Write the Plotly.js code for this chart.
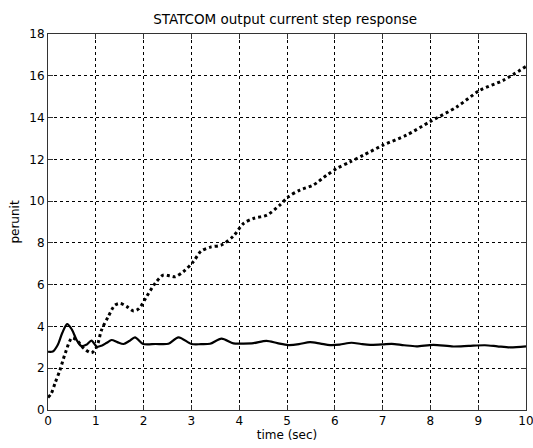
<!DOCTYPE html>
<html><head><meta charset="utf-8">
<script src="https://cdn.plot.ly/plotly-3.0.1.min.js"></script>
<style>html,body{margin:0;padding:0;background:#fff}#chart{width:533px;height:448px}</style>
</head><body><div id="chart"></div>
<script>
const solidTime = [0, 0.1, 0.2, 0.3, 0.4, 0.5, 0.6, 0.7, 0.8, 0.91, 1.02, 1.12, 1.23, 1.33, 1.45, 1.58, 1.7, 1.82, 1.99, 2.25, 2.52, 2.73, 3.0, 3.2, 3.39, 3.63, 3.88, 4.09, 4.3, 4.57, 4.8, 5.03, 5.25, 5.48, 5.7, 5.9, 6.1, 6.35, 6.55, 6.74, 7.0, 7.19, 7.45, 7.71, 8.06, 8.48, 8.8, 9.14, 9.4, 9.67, 10.0];
const solidValue = [2.79, 2.8, 3.1, 3.7, 4.11, 3.85, 3.35, 3.06, 3.12, 3.32, 3.03, 3.08, 3.22, 3.35, 3.25, 3.16, 3.3, 3.48, 3.16, 3.16, 3.17, 3.48, 3.16, 3.15, 3.17, 3.42, 3.19, 3.18, 3.2, 3.31, 3.2, 3.11, 3.15, 3.25, 3.18, 3.11, 3.13, 3.22, 3.16, 3.12, 3.14, 3.17, 3.1, 3.05, 3.12, 3.04, 3.07, 3.1, 3.05, 3.0, 3.05];
const dottedTime = [0, 0.07, 0.15, 0.25, 0.36, 0.5, 0.6, 0.75, 0.91, 1.02, 1.12, 1.26, 1.4, 1.51, 1.65, 1.79, 1.9, 2.06, 2.24, 2.41, 2.55, 2.66, 2.83, 3.04, 3.2, 3.4, 3.63, 3.88, 4.09, 4.3, 4.58, 4.85, 5.03, 5.27, 5.55, 5.83, 6.04, 6.32, 6.6, 7.01, 7.5, 7.99, 8.55, 9.04, 9.53, 10.0];
const dottedValue = [0.6, 0.8, 1.3, 1.91, 2.71, 3.45, 3.35, 2.95, 2.74, 3.03, 3.83, 4.47, 5.02, 5.1, 4.95, 4.74, 4.85, 5.42, 6.06, 6.46, 6.42, 6.38, 6.62, 7.1, 7.6, 7.8, 7.9, 8.33, 8.93, 9.17, 9.33, 9.81, 10.21, 10.53, 10.77, 11.24, 11.56, 11.88, 12.2, 12.68, 13.16, 13.8, 14.51, 15.31, 15.79, 16.45];
const xTicks = [0,1,2,3,4,5,6,7,8,9,10];
const yTicks = [0,2,4,6,8,10,12,14,16,18];

const font = {family: 'DejaVu Sans, Verdana, sans-serif', size: 12, color: '#000'};
const axisCommon = {
  showgrid: true, gridcolor: '#000', gridwidth: 1, griddash: '3px,3px',
  showline: true, linecolor: '#333', linewidth: 1, mirror: 'ticks',
  ticks: 'inside', ticklen: 5, tickcolor: '#333', zeroline: false,
  tickfont: font, fixedrange: true, ticklabeloverflow: 'allow'
};
const data = [
  {x: solidTime, y: solidValue, mode: 'lines', line: {color: '#000', width: 2.2, shape: 'spline', smoothing: 0.8}, hoverinfo: 'skip'},
  {x: dottedTime, y: dottedValue, mode: 'lines', line: {color: '#000', width: 3, dash: '3px,3px', shape: 'spline', smoothing: 0.8}, hoverinfo: 'skip'}
];
const layout = {
  width: 533, height: 448,
  margin: {l: 48, r: 7, t: 34, b: 38},
  paper_bgcolor: '#fff', plot_bgcolor: '#fff',
  showlegend: false,
  font: font,
  title: {text: 'STATCOM output current step response', font: Object.assign({}, font, {size: 13.5}), x: 0.535, xanchor: 'center', y: 0.957, yanchor: 'middle'},
  xaxis: Object.assign({}, axisCommon, {range: [0, 10], tickvals: xTicks, title: {text: 'time (sec)', font: font, standoff: 1}}),
  yaxis: Object.assign({}, axisCommon, {range: [0, 18], tickvals: yTicks, title: {text: 'perunit', font: font, standoff: 7}})
};
Plotly.newPlot('chart', data, layout, {staticPlot: true, displayModeBar: false});
</script></body></html>
